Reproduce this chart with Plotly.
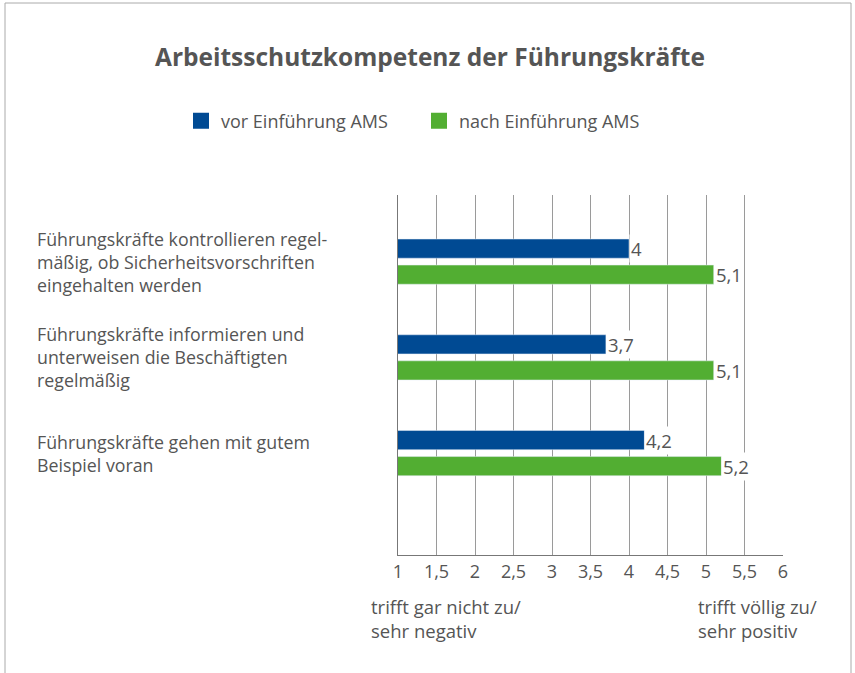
import plotly.graph_objects as go

categories = [
    "Führungskräfte kontrollieren regel-<br>mäßig, ob Sicherheitsvorschriften<br>eingehalten werden",
    "Führungskräfte informieren und<br>unterweisen die Beschäftigten<br>regelmäßig",
    "Führungskräfte gehen mit gutem<br>Beispiel voran",
]
vor = [4.0, 3.7, 4.2]
nach = [5.1, 5.1, 5.2]
series_names = ["vor Einführung AMS", "nach Einführung AMS"]
tick_vals = [1, 1.5, 2, 2.5, 3, 3.5, 4, 4.5, 5, 5.5, 6]
tick_text = ["1", "1,5", "2", "2,5", "3", "3,5", "4", "4,5", "5", "5,5", "6"]

BLUE = "#004a93"
GREEN = "#52ae32"
TXT = "#555555"
FONT = "Open Sans"

PL, PR, PT, PB = 398, 783, 195, 555
PW, PH = PR - PL, PB - PT

ypos = list(range(len(categories)))

fig = go.Figure()
fig.add_trace(go.Bar(y=ypos, x=vor, orientation="h", width=0.2, offset=-0.235,
                     marker_color=BLUE, showlegend=False, hoverinfo="skip"))
fig.add_trace(go.Bar(y=ypos, x=nach, orientation="h", width=0.2, offset=0.037,
                     marker_color=GREEN, showlegend=False, hoverinfo="skip"))
# legend entries
for name, col in zip(series_names, [BLUE, GREEN]):
    fig.add_trace(go.Scatter(x=[None], y=[None], mode="markers", name=name,
                             marker=dict(symbol="square", size=18, color=col)))

def fmt(v):
    s = ("%.1f" % v).rstrip("0").rstrip(".")
    return s.replace(".", ",")

ann = []
for i, (a, b) in enumerate(zip(vor, nach)):
    ann.append(dict(x=a, y=i - 0.135, xref="x", yref="y", text=fmt(a), showarrow=False,
                    xanchor="left", yanchor="middle", bgcolor="white", borderpad=1,
                    font=dict(family=FONT, size=18.5, color=TXT)))
    ann.append(dict(x=b, y=i + 0.137, xref="x", yref="y", text=fmt(b), showarrow=False,
                    xanchor="left", yanchor="middle", bgcolor="white", borderpad=1,
                    font=dict(family=FONT, size=18.5, color=TXT)))
    ann.append(dict(x=(35 - PL) / PW, y=i, xref="paper", yref="y", text=categories[i], showarrow=False,
                    xanchor="left", yanchor="middle", align="left",
                    font=dict(family=FONT, size=17.8, color=TXT)))

ann.append(dict(x=(369 - PL) / PW, y=(PB - 592) / PH, xref="paper", yref="paper",
                text="trifft gar nicht zu/<br>sehr negativ", showarrow=False,
                xanchor="left", yanchor="top", align="left",
                font=dict(family=FONT, size=18.5, color=TXT)))
ann.append(dict(x=(696 - PL) / PW, y=(PB - 592) / PH, xref="paper", yref="paper",
                text="trifft völlig zu/<br>sehr positiv", showarrow=False,
                xanchor="left", yanchor="top", align="left",
                font=dict(family=FONT, size=18.5, color=TXT)))

fig.update_layout(
    width=855, height=673,
    margin=dict(l=PL, r=855 - PR, t=PT, b=673 - PB),
    paper_bgcolor="white", plot_bgcolor="white",
    title=dict(text="<b>Arbeitsschutzkompetenz der Führungskräfte</b>",
               x=430 / 855, xanchor="center", y=1 - 57 / 673, yanchor="middle",
               font=dict(family=FONT, size=24.5, color=TXT)),
    legend=dict(orientation="h", xref="paper", x=(181 - PL) / PW, xanchor="left",
                yref="paper", y=(PB - 121) / PH, yanchor="middle",
                entrywidth=193, entrywidthmode="pixels",
                font=dict(family=FONT, size=18, color=TXT), itemclick=False,
                bgcolor="rgba(0,0,0,0)"),
    xaxis=dict(range=[1, 6], tickvals=tick_vals, ticktext=tick_text,
               showgrid=True, gridcolor="#9a9a9a", gridwidth=1,
               showline=True, linecolor="#777777", linewidth=1, zeroline=False,
               ticks="", tickfont=dict(family=FONT, size=18, color=TXT)),
    yaxis=dict(range=[3.065, -0.695], showticklabels=False, showgrid=False,
               zeroline=False, showline=True, linecolor="#777777", linewidth=1),
    annotations=ann,
    shapes=[dict(type="rect", xref="paper", yref="paper",
                 x0=(5 - PL) / PW, x1=(851 - PL) / PW,
                 y0=(PB - 690) / PH, y1=(PB - 3) / PH,
                 line=dict(color="#aaaaaa", width=1), layer="below")],
)

fig.write_html("out.html", config={"displayModeBar": False},
               post_script="document.body.style.margin='0';")
